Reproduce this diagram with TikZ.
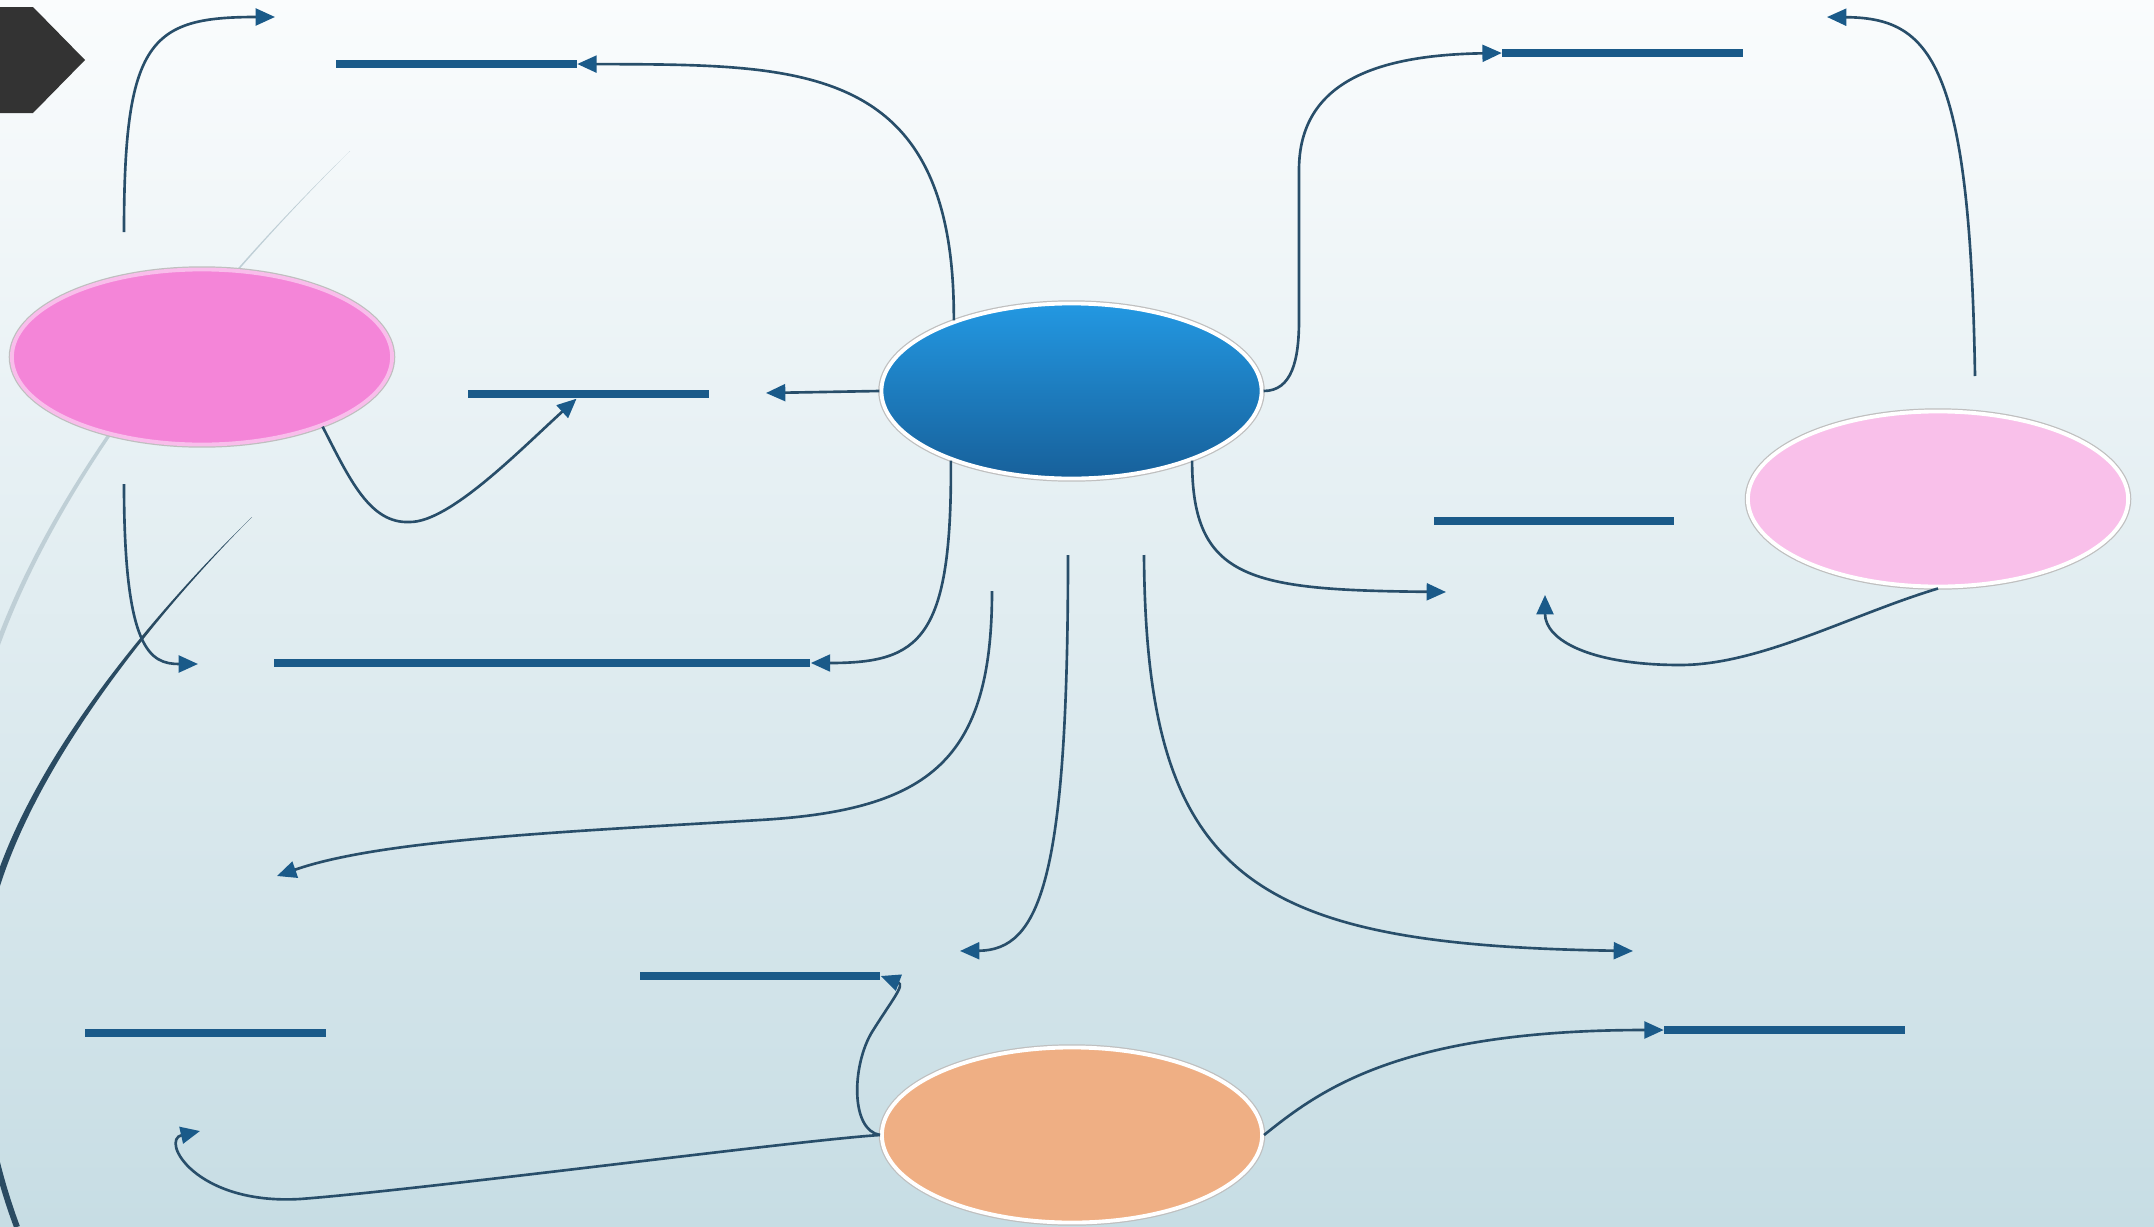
\documentclass[tikz,border=0pt]{standalone}
\usepackage{tikz}
\usetikzlibrary{shapes.geometric, arrows.meta}
\definecolor{bgtop}{HTML}{FAFCFD}
\definecolor{bgbot}{HTML}{C7DDE4}
\definecolor{hubtop}{HTML}{2398E2}
\definecolor{hubbot}{HTML}{17609A}
\definecolor{rosefill}{HTML}{F485D8}
\definecolor{roseedge}{HTML}{F9BDEB}
\definecolor{blushfill}{HTML}{F9C0EA}
\definecolor{peachfill}{HTML}{EFAF84}
\definecolor{barblue}{HTML}{1A5A89}
\definecolor{linkline}{HTML}{284E6A}
\definecolor{hexdark}{HTML}{333333}
\definecolor{greyarc}{HTML}{BFCFD6}
\definecolor{darkarc}{HTML}{2A4B62}
\tikzstyle{bubble} = [ellipse, minimum width=3.8cm, minimum height=1.75cm, inner sep=0pt, line width=1.1pt, draw=white, preaction={draw=black!25, line width=1.8pt}]
\tikzstyle{hub} = [bubble, top color=hubtop, bottom color=hubbot]
\tikzstyle{rose} = [bubble, fill=rosefill, draw=roseedge]
\tikzstyle{blush} = [bubble, fill=blushfill]
\tikzstyle{peach} = [bubble, fill=peachfill]
\tikzstyle{bar} = [rectangle, minimum width=2.4cm, minimum height=0.08cm, inner sep=0pt, fill=barblue]
\tikzstyle{arrow} = [line width=0.75pt, draw=linkline, -{Triangle[length=5.5pt, width=4.8pt, color=barblue]}]

\begin{document}
\begin{tikzpicture}[x=0.01cm, y=-0.01cm]

\useasboundingbox (0,0) rectangle (2154,1227);
\shade [top color=bgtop, bottom color=bgbot] (0,0) rectangle (2154,1227);
\fill [greyarc] (350,151) .. controls (200,300) and (60,480) .. (0,645) -- (-5,645) .. controls (56,478) and (198,299) .. (350,151) -- cycle;
\fill [darkarc] (252,517) .. controls (150,620) and (40,760) .. (0,886) -- (-6,884) .. controls (35,757) and (148,618) .. (252,517) -- cycle;
\draw [darkarc, line width=1.7pt] (-3,885) .. controls (-35,990) and (-23,1120) .. (17,1227);
\fill [hexdark] (-5,7) -- (33,7) -- (85,60) -- (33,113) -- (-5,113) -- cycle;

\node (core) [hub] at (1071.5,391) {};
\node (rose) [rose] at (202,357) {};
\node (blush) [blush] at (1938,499) {};
\node (peach) [peach] at (1072,1135) {};

\node (bar1) [bar] at (456.5,64) {};
\node (bar2) [bar] at (588.5,394) {};
\node (bar3) [bar, minimum width=5.36cm] at (542,663) {};
\node (bar4) [bar] at (1622.5,53) {};
\node (bar5) [bar] at (1554,521) {};
\node (bar6) [bar] at (760,976) {};
\node (bar7) [bar] at (205.5,1033) {};
\node (bar8) [bar] at (1784.5,1030) {};

\coordinate (lstem) at (124,232);
\coordinate (ltip) at (275,17);
\coordinate (wtip) at (766,393);
\coordinate (dstem) at (124,484);
\coordinate (dtip) at (198,664);
\coordinate (rstem) at (1975,376);
\coordinate (rtip) at (1827,17);
\coordinate (stip) at (1446,592);
\coordinate (btip) at (1545,595);
\coordinate (fan1) at (992,591);
\coordinate (fan1tip) at (277,876);
\coordinate (fan2) at (1068,555);
\coordinate (fan2tip) at (960,951);
\coordinate (fan3) at (1144,555);
\coordinate (fan3tip) at (1633,951);
\coordinate (loop) at (200,1131);

\draw [arrow] (lstem) .. controls (124,40) and (150,17) .. (ltip);
\draw [arrow] (core.149) .. controls (955,60) and (800,65) .. (bar1.east);
\draw [arrow] (core.west) -- (wtip);
\draw [arrow] (core.210) .. controls (952,640) and (920,663) .. (bar3.east);
\draw [arrow] (rose.-30) .. controls (350,480) and (370,524) .. (410,522) .. controls (450,522) and (520,450) .. ([xshift=-0.12cm]bar2.south);
\draw [arrow] (dstem) .. controls (124,650) and (150,664) .. (dtip);
\draw [arrow] (core.east) .. controls (1292,391) and (1299,360) .. (1299,320) -- (1299,170) .. controls (1299,80) and (1380,55) .. (bar4.west);
\draw [arrow] (rstem) .. controls (1970,60) and (1930,18) .. (rtip);
\draw [arrow] (core.-30) .. controls (1192,580) and (1250,590) .. (stip);
\draw [arrow] (blush.south) .. controls (1850,615) and (1760,665) .. (1680,665) .. controls (1590,665) and (1545,640) .. (btip);
\draw [arrow] (fan1) .. controls (992,760) and (930,810) .. (760,820) .. controls (560,832) and (380,840) .. (fan1tip);
\draw [arrow] (fan2) .. controls (1068,880) and (1040,950) .. (fan2tip);
\draw [arrow] (fan3) .. controls (1146,880) and (1250,945) .. (fan3tip);
\draw [arrow] (peach.west) .. controls (850,1130) and (852,1065) .. (872,1032) .. controls (892,1000) and (905,985) .. (bar6.east);
\draw [arrow] (peach.west) .. controls (800,1140) and (420,1190) .. (300,1199) .. controls (195,1205) and (160,1140) .. (loop);
\draw [arrow] (peach.east) .. controls (1320,1090) and (1400,1030) .. (bar8.west);

\end{tikzpicture}
\end{document}
